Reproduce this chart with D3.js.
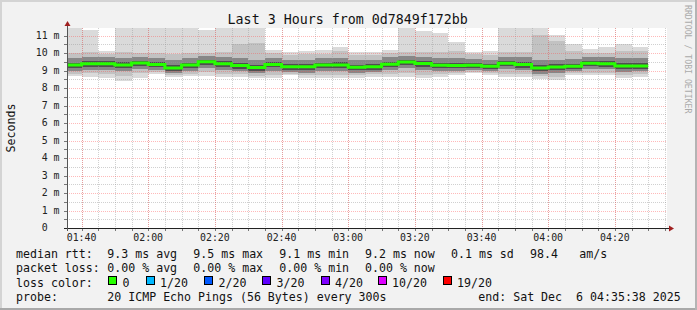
<!DOCTYPE html>
<html>
<head>
<meta charset="utf-8">
<script src="https://cdn.jsdelivr.net/npm/d3@7"></script>
<style>
body { margin: 0; background: #f2f2f2; }
text { font-family: "DejaVu Sans Mono", monospace; }
</style>
</head>
<body>
<svg id="chart"></svg>
<script>
// 5 minute slots, labelled by end time (UTC, Dec 6 2025)
var slotEnds = ["01:40", "01:45", "01:50", "01:55", "02:00", "02:05", "02:10", "02:15", "02:20", "02:25",
    "02:30", "02:35", "02:40", "02:45", "02:50", "02:55", "03:00", "03:05", "03:10", "03:15",
    "03:20", "03:25", "03:30", "03:35", "03:40", "03:45", "03:50", "03:55", "04:00", "04:05",
    "04:10", "04:15", "04:20", "04:25", "04:30"];

// median rtt in ms
var median = [9.31, 9.39, 9.39, 9.31, 9.43, 9.34, 9.14, 9.31, 9.50, 9.38, 9.28, 9.17, 9.35, 9.21, 9.21,
    9.31, 9.31, 9.18, 9.22, 9.36, 9.49, 9.40, 9.30, 9.29, 9.30, 9.24, 9.41, 9.35, 9.14, 9.20,
    9.24, 9.41, 9.39, 9.26, 9.26];

// smoke: outermost pings (min / max)
var pingMin = [8.69, 8.61, 8.57, 8.42, 8.57, 8.80, 8.65, 8.69, 8.69, 8.65, 8.63, 8.55, 8.55, 8.74, 8.60,
    8.55, 8.55, 8.58, 8.65, 8.65, 8.65, 8.55, 8.65, 8.74, 8.83, 8.77, 8.65, 8.65, 8.50, 8.47,
    8.77, 8.74, 8.74, 8.60, 8.65];
var pingMax = [11.9, 11.31, 10.11, 11.9, 11.9, 11.9, 11.9, 11.9, 11.31, 11.9, 11.9, 11.9, 10.17, 10.04, 10.11,
    10.17, 10.34, 10.07, 10.07, 10.17, 11.9, 11.26, 11.14, 10.65, 10.07, 10.11, 11.9, 11.9, 11.9, 11.03,
    10.5, 10.23, 10.34, 10.51, 10.34];
// second layer
var lo2 = [8.82, 8.85, 8.82, 8.70, 8.85, 8.90, 8.74, 8.82, 8.90, 8.82, 8.78, 8.70, 8.75, 8.82, 8.75,
    8.75, 8.75, 8.72, 8.78, 8.80, 8.85, 8.72, 8.80, 8.85, 8.92, 8.88, 8.80, 8.80, 8.66, 8.62,
    8.88, 8.88, 8.86, 8.76, 8.78];
var hi2 = [10.02, 10.05, 9.95, 10.05, 10.00, 10.00, 9.95, 10.00, 10.02, 10.05, 10.50, 10.58, 9.98, 9.90, 9.95,
    9.95, 10.10, 9.90, 9.90, 9.98, 10.05, 10.05, 10.05, 10.10, 9.92, 9.90, 10.05, 10.05, 11.03, 10.70,
    10.12, 9.98, 10.02, 10.10, 10.10];
// third layer
var lo3 = [8.98, 9.05, 9.05, 8.96, 9.08, 9.05, 8.84, 8.98, 9.15, 9.05, 8.95, 8.85, 9.00, 8.92, 8.88,
    8.98, 8.98, 8.88, 8.92, 9.03, 9.15, 9.05, 8.98, 8.98, 9.02, 8.95, 9.08, 9.02, 8.82, 8.86,
    8.96, 9.10, 9.08, 8.94, 8.96];
var hi3 = [9.70, 9.78, 9.76, 9.72, 9.80, 9.72, 9.58, 9.70, 9.85, 9.75, 9.70, 9.62, 9.72, 9.60, 9.62,
    9.70, 9.74, 9.58, 9.60, 9.75, 9.85, 9.80, 9.72, 9.72, 9.68, 9.62, 9.80, 9.75, 9.60, 9.62,
    9.66, 9.78, 9.78, 9.70, 9.70];
// core
var lo4 = [9.14, 9.20, 9.22, 9.13, 9.25, 9.18, 8.98, 9.14, 9.33, 9.20, 9.10, 9.00, 9.18, 9.04, 9.03,
    9.14, 9.13, 9.01, 9.05, 9.19, 9.32, 9.22, 9.13, 9.12, 9.14, 9.07, 9.24, 9.17, 8.97, 9.02,
    9.08, 9.24, 9.22, 9.08, 9.09];
var hi4 = [9.45, 9.52, 9.55, 9.46, 9.57, 9.48, 9.30, 9.45, 9.62, 9.52, 9.42, 9.33, 9.50, 9.36, 9.35,
    9.45, 9.46, 9.33, 9.36, 9.50, 9.62, 9.55, 9.45, 9.44, 9.43, 9.38, 9.55, 9.50, 9.30, 9.35,
    9.40, 9.55, 9.52, 9.41, 9.42];

var yTickValues = [0, 1, 2, 3, 4, 5, 6, 7, 8, 9, 10, 11];
var yTickLabels = ["0", "1 m", "2 m", "3 m", "4 m", "5 m", "6 m", "7 m", "8 m", "9 m", "10 m", "11 m"];

var lossLabels = ["0", "1/20", "2/20", "3/20", "4/20", "10/20", "19/20"];
var lossColors = ["#26ff00", "#00b8ff", "#0059ff", "#5e00ff", "#7e00ff", "#dd00ff", "#ff0000"];

var rttStats = ["9.3 ms avg", "9.5 ms max", "9.1 ms min", "9.2 ms now", "0.1 ms sd", "98.4", "am/s"];
var lossStats = ["0.00 % avg", "0.00 % max", "0.00 % min", "0.00 % now"];

var svg_width = 697, svg_height = 310;
var pLeft = 67, pRight = 667, pTop = 28, pBottom = 228;

var parseT = d3.utcParse("%Y-%m-%d %H:%M:%S");
var tStart = parseT("2025-12-06 01:35:38"), tEnd = parseT("2025-12-06 04:35:38");
var ends = slotEnds.map(function (s) { return parseT("2025-12-06 " + s + ":00"); });
var starts = ends.map(function (d) { return d3.utcMinute.offset(d, -5); });

var x = d3.scaleUtc().domain([tStart, tEnd]).range([pLeft, pRight]);
var y = d3.scaleLinear().domain([0, 11.43]).range([pBottom, pTop]);

var svg = d3.select("#chart").attr("width", svg_width).attr("height", svg_height);

svg.append("rect").attr("width", svg_width).attr("height", svg_height).attr("fill", "#f2f2f2");
svg.append("rect").attr("width", svg_width).attr("height", 2).attr("fill", "#d4d4d4");
svg.append("rect").attr("width", 2).attr("height", svg_height).attr("fill", "#d4d4d4");
svg.append("rect").attr("y", svg_height - 2).attr("width", svg_width).attr("height", 2).attr("fill", "#a9a9a9");
svg.append("rect").attr("x", svg_width - 2).attr("width", 2).attr("height", svg_height).attr("fill", "#b4b4b4");

svg.append("rect").attr("x", pLeft).attr("y", pTop).attr("width", pRight - pLeft).attr("height", pBottom - pTop)
    .attr("fill", "#ffffff");

svg.append("clipPath").attr("id", "plot").append("rect")
    .attr("x", pLeft).attr("y", pTop).attr("width", pRight - pLeft).attr("height", pBottom - pTop);

// smoke
var layers = [
    {lo: pingMin, hi: pingMax, color: "#dadada"},
    {lo: lo2, hi: hi2, color: "#c2c2c2"},
    {lo: lo3, hi: hi3, color: "#878787"},
    {lo: lo4, hi: hi4, color: "#4f4f4f"}
];
var smoke = svg.append("g").attr("clip-path", "url(#plot)").attr("shape-rendering", "crispEdges");
layers.forEach(function (layer) {
    smoke.append("g").selectAll("rect")
        .data(d3.range(slotEnds.length))
        .join("rect")
        .attr("x", function (i) { return Math.round(x(starts[i])); })
        .attr("width", function (i) { return Math.round(x(ends[i])) - Math.round(x(starts[i])); })
        .attr("y", function (i) { return y(layer.hi[i]); })
        .attr("height", function (i) { return y(layer.lo[i]) - y(layer.hi[i]); })
        .attr("fill", layer.color);
});

// grid
var grid = svg.append("g").attr("shape-rendering", "crispEdges").attr("stroke-dasharray", "1,1");
var minorT = d3.utcMinute.every(5).range(tStart, tEnd);
var majorT = d3.utcMinute.every(20).range(tStart, tEnd);
grid.selectAll(".vmin").data(minorT).join("line").attr("class", "vmin")
    .attr("x1", function (d) { return Math.round(x(d)) + 0.5; })
    .attr("x2", function (d) { return Math.round(x(d)) + 0.5; })
    .attr("y1", pTop).attr("y2", pBottom)
    .attr("stroke", "rgba(150,150,150,0.45)");
grid.selectAll(".hmin").data(d3.range(0.5, 11.5, 1)).join("line").attr("class", "hmin")
    .attr("x1", pLeft).attr("x2", pRight)
    .attr("y1", function (d) { return Math.round(y(d)) + 0.5; })
    .attr("y2", function (d) { return Math.round(y(d)) + 0.5; })
    .attr("stroke", "rgba(150,150,150,0.45)");
grid.selectAll(".vmaj").data(majorT).join("line").attr("class", "vmaj")
    .attr("x1", function (d) { return Math.round(x(d)) + 0.5; })
    .attr("x2", function (d) { return Math.round(x(d)) + 0.5; })
    .attr("y1", pTop).attr("y2", pBottom)
    .attr("stroke", "rgba(255,80,80,0.4)");
grid.selectAll(".hmaj").data(yTickValues.slice(1)).join("line").attr("class", "hmaj")
    .attr("x1", pLeft).attr("x2", pRight)
    .attr("y1", function (d) { return Math.round(y(d)) + 0.5; })
    .attr("y2", function (d) { return Math.round(y(d)) + 0.5; })
    .attr("stroke", "rgba(255,80,80,0.4)");

// median line
var medPts = starts.map(function (s, i) { return {t: s, v: median[i]}; });
medPts.push({t: ends[ends.length - 1], v: median[median.length - 1]});
svg.append("path").attr("clip-path", "url(#plot)")
    .attr("d", d3.line().x(function (d) { return x(d.t); }).y(function (d) { return y(d.v); })
        .curve(d3.curveStepAfter)(medPts))
    .attr("fill", "none").attr("stroke", lossColors[0]).attr("stroke-width", 3);

// axes
var ax = svg.append("g").attr("shape-rendering", "crispEdges");
ax.selectAll(".yt").data(d3.range(0.5, 11.5, 0.5)).join("line").attr("class", "yt")
    .attr("x1", pLeft - 3).attr("x2", pLeft)
    .attr("y1", function (d) { return Math.round(y(d)) + 0.5; })
    .attr("y2", function (d) { return Math.round(y(d)) + 0.5; })
    .attr("stroke", "#777");
ax.selectAll(".xt").data(minorT).join("line").attr("class", "xt")
    .attr("x1", function (d) { return Math.round(x(d)) + 0.5; })
    .attr("x2", function (d) { return Math.round(x(d)) + 0.5; })
    .attr("y1", pBottom).attr("y2", pBottom + 3)
    .attr("stroke", "#777");
ax.append("line").attr("x1", pLeft - 3).attr("x2", pRight + 4).attr("y1", pBottom + 0.5).attr("y2", pBottom + 0.5)
    .attr("stroke", "#222");
ax.append("line").attr("x1", pLeft + 0.5).attr("x2", pLeft + 0.5).attr("y1", pBottom + 3).attr("y2", pTop - 5)
    .attr("stroke", "#555");
svg.append("path").attr("fill", "#a02020")
    .attr("d", "M" + (pRight + 2) + "," + (pBottom - 2.5) + "L" + (pRight + 7) + "," + (pBottom + 0.5) +
        "L" + (pRight + 2) + "," + (pBottom + 3.5) + "Z");
svg.append("path").attr("fill", "#a02020")
    .attr("d", "M" + (pLeft - 2.5) + "," + (pTop - 2) + "L" + (pLeft + 0.5) + "," + (pTop - 7) +
        "L" + (pLeft + 3.5) + "," + (pTop - 2) + "Z");

svg.append("g").selectAll("text").data(majorT).join("text")
    .attr("x", function (d) { return x(d); }).attr("y", pBottom + 13)
    .attr("text-anchor", "middle").attr("font-size", "9.9px").attr("fill", "#222")
    .text(d3.utcFormat("%H:%M"));
svg.append("g").selectAll("text").data(yTickValues).join("text")
    .attr("xml:space", "preserve")
    .attr("x", pLeft - 7.5).attr("y", function (d) { return y(d) + 3.4; })
    .attr("text-anchor", "end").attr("font-size", "9.9px").attr("fill", "#222")
    .text(function (d, i) { var l = yTickLabels[i]; return l.indexOf(" ") < 0 ? l + "  " : l; });

// titles
svg.append("text").attr("x", 347.7).attr("y", 23.5).attr("text-anchor", "middle")
    .attr("font-size", "13.3px").attr("fill", "#111").text("Last 3 Hours from 0d7849f172bb");
svg.append("text").attr("transform", "translate(15," + ((pTop + pBottom) / 2) + ") rotate(-90)")
    .attr("text-anchor", "middle").attr("font-size", "11.6px").attr("fill", "#111").text("Seconds");
svg.append("text").attr("transform", "translate(685,5) rotate(90)")
    .attr("font-size", "8.2px").attr("fill", "#aaaaaa").text("RRDTOOL / TOBI OETIKER");

// legend
var leg = svg.append("g").attr("font-size", "11.6px").attr("fill", "#111");
function legText(xp, yp, s) {
    leg.append("text").attr("xml:space", "preserve").attr("x", xp).attr("y", yp).text(s);
}
var rttX = [107.3, 193.3, 279.3, 365, 451, 530, 579.3];
legText(16, 258.3, "median rtt:");
rttStats.forEach(function (s, i) { legText(rttX[i], 258.3, s); });
legText(16, 272.4, "packet loss:");
lossStats.forEach(function (s, i) { legText(rttX[i], 272.4, s); });
legText(16, 286.5, "loss color:");
var boxX = [108, 145.5, 204, 262, 320.5, 377.5, 442.5];
lossLabels.forEach(function (s, i) {
    leg.append("rect").attr("x", boxX[i] + 0.5).attr("y", 276.5).attr("width", 8).attr("height", 8)
        .attr("fill", lossColors[i]).attr("stroke", "#000").attr("shape-rendering", "crispEdges");
    legText(boxX[i] + 14.6, 286.5, s);
});
legText(16, 300.6, "probe:");
legText(107.3, 300.6, "20 ICMP Echo Pings (56 Bytes) every 300s");
legText(478.3, 300.6, "end: Sat Dec  6 04:35:38 2025");
</script>
</body>
</html>
